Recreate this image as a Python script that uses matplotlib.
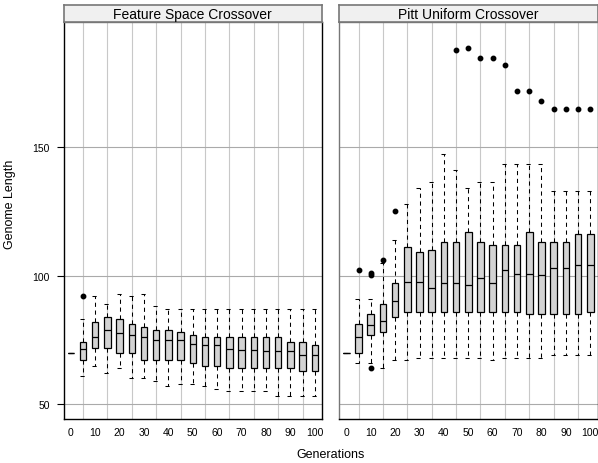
import matplotlib
matplotlib.use('Agg')

import matplotlib.pyplot as plt
from matplotlib.ticker import FixedLocator

plt.rcParams['font.family'] = ['Liberation Sans', 'DejaVu Sans']

generations = list(range(0, 101, 5))
tick_labels = [str(g) for g in range(0, 101, 10)]

# Feature Space Crossover
fs_whislo = [70, 61, 65, 62, 64, 60, 60, 59, 57, 58, 58, 57, 56, 55, 55, 55, 55, 53, 53, 53, 53]
fs_q1 = [70, 67, 72, 72, 70, 70, 67, 67, 67, 67, 66, 65, 65, 64, 64, 64, 64, 64, 64, 63, 63]
fs_med = [70, 71.6, 76, 79, 77.5, 77, 76, 75, 75, 75, 73.5, 73, 73, 71.6, 71, 71, 70.5, 70.5, 70.5, 69, 69]
fs_q3 = [70, 74, 82, 84, 83, 81, 80, 79, 79, 78, 77, 76, 76, 76, 76, 76, 76, 76, 74, 74, 73]
fs_whishi = [70, 83, 92, 89, 93, 92, 93, 88, 87, 87, 87, 87, 87, 87, 87, 87, 87, 87, 87, 87, 87]
fs_fliers = {5: [92]}

# Pitt Uniform Crossover
pu_whislo = [70, 66, 66, 64, 67, 67, 68, 68, 68, 68, 68, 68, 67, 68, 68, 68, 68, 69, 69, 69, 69]
pu_q1 = [70, 70, 77, 78, 84, 86, 86, 86, 86, 86, 86, 86, 86, 86, 86, 85, 85, 85, 85, 85, 86]
pu_med = [70, 76, 80.6, 82.5, 90, 97.7, 97.7, 95, 97, 97, 96.4, 99, 97, 102.3, 100.8, 100.8, 100.3, 103, 103, 104, 104]
pu_q3 = [70, 81, 85, 89, 97, 111, 109, 110, 113, 113, 117, 113, 112, 112, 112, 117, 113, 113, 113, 116, 116]
pu_whishi = [70, 91, 91, 105, 114, 128, 134, 136.5, 147.5, 141, 134, 136.5, 136.5, 143.5, 143.5, 143.5, 143.5, 133, 133, 133, 133]
pu_fliers = {5: [102], 10: [100.3, 101.2, 64], 15: [106], 20: [125],
             45: [187.6], 50: [188.6], 55: [184.8], 60: [184.8], 65: [181.8],
             70: [171.8], 75: [171.8], 80: [167.8],
             85: [164.8], 90: [164.8], 95: [164.8], 100: [164.8]}

panels = [
    ('Feature Space Crossover', fs_whislo, fs_q1, fs_med, fs_q3, fs_whishi, fs_fliers),
    ('Pitt Uniform Crossover', pu_whislo, pu_q1, pu_med, pu_q3, pu_whishi, pu_fliers),
]

W, H = 598, 464
fig = plt.figure(figsize=(W / 100, H / 100), dpi=100)

lefts = [63.5, 339]
pw = 258.6
top, bottom = 22.7, 420
strip_top = 5.7

dash = (0, (4, 3.5))

for i, (title, wlo, q1, med, q3, whi, fl) in enumerate(panels):
    ax = fig.add_axes([lefts[i] / W, (H - bottom) / H, pw / W, (bottom - top) / H])
    stats = []
    for j, g in enumerate(generations):
        stats.append(dict(whislo=wlo[j], q1=q1[j], med=med[j], q3=q3[j],
                          whishi=whi[j], fliers=fl.get(g, [])))
    ax.bxp(stats, positions=range(len(generations)), widths=0.53, capwidths=0.5,
           patch_artist=True, manage_ticks=False,
           boxprops=dict(facecolor='#d3d3d3', edgecolor='black', linewidth=0.9),
           medianprops=dict(color='black', linewidth=0.9),
           whiskerprops=dict(color='black', linewidth=0.75, linestyle=dash),
           capprops=dict(color='black', linewidth=0.75, linestyle=dash),
           flierprops=dict(marker='o', markerfacecolor='black', markeredgecolor='black',
                           markersize=3.2))

    ax.set_xlim(-0.6, 20.6)
    ax.set_ylim(44.2, 198.8)
    ax.set_xticks(range(0, 21, 2))
    ax.set_xticklabels(tick_labels)
    ax.xaxis.set_minor_locator(FixedLocator(range(1, 21, 2)))
    ax.tick_params(axis='x', which='both', length=0, pad=5.5, labelsize=7.5)
    ax.set_yticks([50, 100, 150])
    ax.set_axisbelow(True)
    ax.grid(which='minor', axis='x', color='#c8c8c8', linewidth=0.8)
    ax.grid(which='major', axis='y', color='#aaaaaa', linewidth=0.8)
    if i == 0:
        ax.tick_params(axis='y', length=4.7, width=0.8, pad=5, labelsize=7.5)
        ax.spines['left'].set_color('black')
    else:
        ax.tick_params(axis='y', length=0, labelleft=False)
        ax.spines['left'].set_color('#777777')
    ax.spines['top'].set_color('#777777')
    for s in ax.spines.values():
        s.set_linewidth(1)

    # strip with the panel title
    sax = fig.add_axes([lefts[i] / W, (H - top) / H, pw / W, (top - strip_top) / H])
    sax.set_facecolor('#f0f0f0')
    sax.set_xticks([])
    sax.set_yticks([])
    for s in sax.spines.values():
        s.set_color('#777777')
        s.set_linewidth(1.2)
    sax.text(0.5, 0.45, title, ha='center', va='center', fontsize=10,
             transform=sax.transAxes)

fig.text(10 / W, 1 - 204 / H, 'Genome Length', rotation=90, ha='center', va='center',
         fontsize=9)
fig.text(330.5 / W, 1 - 455 / H, 'Generations', ha='center', va='center', fontsize=9)

plt.savefig('out.png', dpi=100)
